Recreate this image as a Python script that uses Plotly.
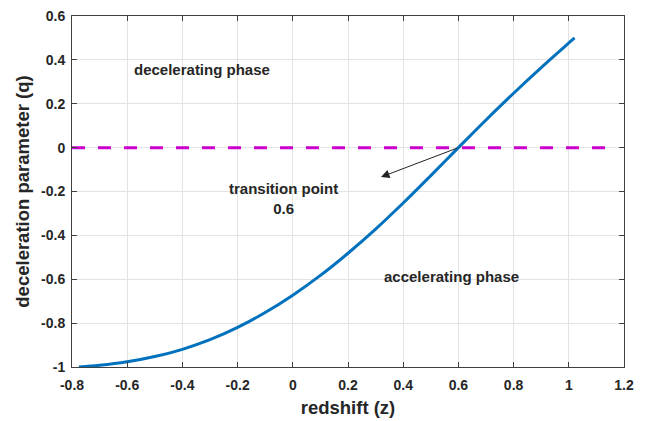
import plotly.graph_objects as go

# data
z_vals = [-0.775, -0.7, -0.6, -0.5, -0.4, -0.3, -0.2, -0.1, 0.0, 0.1, 0.2, 0.3, 0.4, 0.5, 0.6, 0.7, 0.8, 0.9, 1.0, 1.021]
q_vals = [-1.0, -0.9925, -0.9765, -0.9525, -0.9195, -0.8755, -0.8195, -0.7515, -0.6725, -0.5825, -0.4815, -0.3715, -0.2525, -0.1275, 0.0, 0.126, 0.248, 0.365, 0.477, 0.5]
ref_z = [-0.8, 1.15]
ref_q = [0.0, 0.0]
x_ticks = [-0.8, -0.6, -0.4, -0.2, 0, 0.2, 0.4, 0.6, 0.8, 1, 1.2]
x_tick_text = ["-0.8", "-0.6", "-0.4", "-0.2", "0", "0.2", "0.4", "0.6", "0.8", "1", "1.2"]
y_ticks = [-1, -0.8, -0.6, -0.4, -0.2, 0, 0.2, 0.4, 0.6]
y_tick_text = ["-1", "-0.8", "-0.6", "-0.4", "-0.2", "0", "0.2", "0.4", "0.6"]
transition_z = 0.6
arrow_tip = (0.3196, -0.134)

FONT = "Liberation Sans, Arial, sans-serif"

fig = go.Figure()
fig.add_trace(go.Scatter(x=ref_z, y=ref_q, mode="lines",
                         line=dict(color="#CC00CC", width=3, dash="13px,13px"),
                         showlegend=False, hoverinfo="skip"))
fig.add_trace(go.Scatter(x=z_vals, y=q_vals, mode="lines",
                         line=dict(color="#0072BD", width=3, shape="spline", smoothing=1.0),
                         showlegend=False))

axis_common = dict(
    showline=True, linecolor="#404040", linewidth=1, mirror="ticks",
    ticks="inside", ticklen=5, tickcolor="#404040",
    showgrid=True, gridcolor="#E3E3E3", gridwidth=1, zeroline=False,
    tickfont=dict(family=FONT, size=14, color="#262626", weight="bold"),
    automargin=False,
)

fig.update_xaxes(range=[-0.8, 1.2], tickvals=x_ticks, ticktext=x_tick_text,
                 ticklabelstandoff=5,
                 title=dict(text="redshift (z)", font=dict(family=FONT, size=18.5, color="#262626", weight="bold"), standoff=9),
                 **axis_common)
fig.update_yaxes(range=[-1, 0.6], tickvals=y_ticks, ticktext=y_tick_text,
                 ticklabelstandoff=3,
                 title=dict(text="deceleration parameter (q)", font=dict(family=FONT, size=18.5, color="#262626", weight="bold"), standoff=6),
                 **axis_common)

ann_font = dict(family=FONT, size=15, color="#262626", weight="bold")
fig.add_annotation(x=-0.33, y=0.358, text="decelerating phase", showarrow=False, font=ann_font)
fig.add_annotation(x=-0.032, y=-0.23, text="transition point<br>0.6", showarrow=False, font=ann_font)
fig.add_annotation(x=0.576, y=-0.588, text="accelerating phase", showarrow=False, font=ann_font)
fig.add_annotation(x=arrow_tip[0], y=arrow_tip[1], ax=transition_z, ay=0.0, axref="x", ayref="y",
                   xref="x", yref="y", text="", showarrow=True, arrowhead=2, arrowsize=1.7,
                   arrowwidth=1, arrowcolor="#222222")

fig.update_layout(width=647, height=421, margin=dict(l=72, r=23, t=16, b=54, autoexpand=False),
                  plot_bgcolor="white", paper_bgcolor="white")

fig.write_html("out.html")
